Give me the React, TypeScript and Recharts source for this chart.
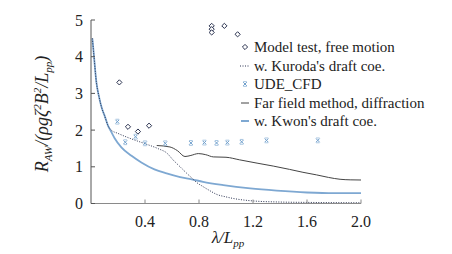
import React from "react";
import { ComposedChart, Line, Scatter, XAxis, YAxis } from "recharts";

// wavelength ratio λ/Lpp and added resistance
const kwonX = [0.01, 0.02, 0.04, 0.06, 0.08, 0.1, 0.126, 0.15, 0.175, 0.225, 0.3, 0.373, 0.47, 0.56, 0.66, 0.745, 0.83, 0.98, 1.18, 1.375, 1.6, 1.8, 2.0];
const kwonY = [4.5, 4.1, 3.3, 2.9, 2.6, 2.4, 2.12, 1.95, 1.78, 1.53, 1.3, 1.12, 0.93, 0.82, 0.72, 0.66, 0.59, 0.5, 0.41, 0.35, 0.3, 0.28, 0.28];

const kurodaX = [0.01, 0.02, 0.04, 0.06, 0.08, 0.1, 0.126, 0.15, 0.2, 0.3, 0.4, 0.5, 0.56, 0.61, 0.66, 0.71, 0.745, 0.78, 0.83, 0.88, 0.93, 1.0, 1.05, 1.2, 1.4, 1.6, 2.0];
const kurodaY = [4.5, 4.1, 3.3, 2.9, 2.6, 2.4, 2.12, 2.0, 1.91, 1.76, 1.63, 1.49, 1.38, 1.18, 1.0, 0.82, 0.7, 0.58, 0.46, 0.35, 0.25, 0.18, 0.14, 0.07, 0.04, 0.03, 0.02];

const farX = [0.487, 0.585, 0.64, 0.696, 0.74, 0.795, 0.85, 0.906, 1.0, 1.1, 1.23, 1.35, 1.47, 1.57, 1.67, 1.76, 1.845, 1.92, 2.0];
const farY = [1.58, 1.54, 1.44, 1.28, 1.31, 1.36, 1.33, 1.27, 1.26, 1.19, 1.1, 1.02, 0.93, 0.85, 0.78, 0.71, 0.66, 0.645, 0.64];

const testX = [0.21, 0.274, 0.348, 0.43, 0.894, 0.894, 0.894, 0.988, 1.086];
const testY = [3.3, 2.09, 1.96, 2.12, 4.84, 4.75, 4.66, 4.84, 4.61];

const cfdX = [0.195, 0.254, 0.33, 0.4, 0.55, 0.74, 0.84, 0.93, 1.01, 1.116, 1.3, 1.68];
const cfdY = [2.23, 1.67, 1.82, 1.64, 1.64, 1.65, 1.66, 1.65, 1.66, 1.68, 1.72, 1.72];

const xTicks = [0.4, 0.8, 1.2, 1.6, 2.0];
const yTicks = [0, 1, 2, 3, 4, 5];

const legendLabels = [
  "Model test, free motion",
  "w. Kuroda's draft coe.",
  "UDE_CFD",
  "Far field method, diffraction",
  "w. Kwon's draft coe.",
];

const zip = (xs: number[], ys: number[]) => xs.map((x, i) => ({ x, y: ys[i] }));

const FONT = "Times New Roman, Liberation Serif, serif";
const DARK = "#2b3350";
const LIGHT_BLUE = "#7ea8d2";
const CFD_BLUE = "#6f9fcc";

const Diamond = ({ cx, cy }: { cx?: number; cy?: number }) => {
  if (cx == null || cy == null) return null;
  const r = 2.6;
  return (
    <path
      d={`M${cx},${cy - r}L${cx + r},${cy}L${cx},${cy + r}L${cx - r},${cy}Z`}
      fill="#fff"
      stroke={DARK}
      strokeWidth={1}
    />
  );
};

const Cross = ({ cx, cy }: { cx?: number; cy?: number }) => {
  if (cx == null || cy == null) return null;
  const r = 1.8;
  return (
    <g stroke={CFD_BLUE} strokeWidth={1}>
      <path d={`M${cx - r},${cy - r}L${cx + r},${cy + r}M${cx + r},${cy - r}L${cx - r},${cy + r}`} />
      <path d={`M${cx - r},${cy - r - 0.6}L${cx + r},${cy - r - 0.6}M${cx - r},${cy + r + 0.6}L${cx + r},${cy + r + 0.6}`} strokeWidth={0.6} />
    </g>
  );
};

const YLabel = () => {
  const cx = 40;
  const cy = 106;
  return (
    <text
      x={cx}
      y={cy}
      transform={`rotate(-90, ${cx}, ${cy})`}
      textAnchor="middle"
      fontFamily={FONT}
      fontStyle="italic"
      fontSize={18}
      fill="#222"
    >
      R
      <tspan dy={4} fontSize={11}>AW</tspan>
      <tspan dy={-4}>/(ρgζ</tspan>
      <tspan dy={-7} fontSize={11}>2</tspan>
      <tspan dy={7}>B</tspan>
      <tspan dy={-7} fontSize={11}>2</tspan>
      <tspan dy={7}>/L</tspan>
      <tspan dy={4} fontSize={11}>pp</tspan>
      <tspan dy={-4}>)</tspan>
    </text>
  );
};

const XLabel = () => (
  <text x={220} y={235} textAnchor="middle" fontFamily={FONT} fontStyle="italic" fontSize={17} fill="#222">
    λ/L
    <tspan dy={4} fontSize={11}>pp</tspan>
  </text>
);

const legendIcon = (i: number) => {
  switch (i) {
    case 0:
      return <Diamond cx={5} cy={6} />;
    case 1:
      return <line x1={0} y1={6} x2={10} y2={6} stroke={DARK} strokeWidth={1} strokeDasharray="1 1.5" />;
    case 2:
      return <Cross cx={5} cy={6} />;
    case 3:
      return <line x1={1} y1={6} x2={9} y2={6} stroke="#444" strokeWidth={1} />;
    default:
      return <line x1={1} y1={6} x2={9} y2={6} stroke={LIGHT_BLUE} strokeWidth={2} />;
  }
};

export default function App() {
  return (
    <div style={{ position: "relative", width: 436, height: 246, background: "#fff" }}>
      <ComposedChart width={436} height={246} margin={{ top: 12, right: 83, bottom: 8, left: 0 }}>
        <XAxis
          type="number"
          dataKey="x"
          domain={[0, 2]}
          ticks={xTicks}
          tickFormatter={(v: number) => v.toFixed(1)}
          height={42.5}
          tickSize={-4}
          tickMargin={16}
          stroke="#8a8a8a"
          tick={{ fill: "#222", fontSize: 16, fontFamily: FONT }}
          allowDataOverflow
          label={<XLabel />}
        />
        <YAxis
          type="number"
          dataKey="y"
          domain={[0, 5]}
          ticks={yTicks}
          width={83}
          tickSize={-4}
          tickMargin={12}
          stroke="#555"
          tick={{ fill: "#222", fontSize: 16, fontFamily: FONT }}
          allowDataOverflow
          label={<YLabel />}
        />
        <Line data={zip(kwonX, kwonY)} dataKey="y" type="monotone" stroke={LIGHT_BLUE} strokeWidth={1.8} dot={false} isAnimationActive={false} />
        <Line data={zip(farX, farY)} dataKey="y" type="monotone" stroke="#444" strokeWidth={1} dot={false} isAnimationActive={false} />
        <Line data={zip(kurodaX, kurodaY)} dataKey="y" type="monotone" stroke={DARK} strokeWidth={1} strokeDasharray="1 1.5" dot={false} isAnimationActive={false} />
        <Scatter data={zip(cfdX, cfdY)} dataKey="y" shape={<Cross />} isAnimationActive={false} />
        <Scatter data={zip(testX, testY)} dataKey="y" shape={<Diamond />} isAnimationActive={false} />
      </ComposedChart>
      <div style={{ position: "absolute", left: 232, top: 30, fontFamily: FONT, fontSize: 15, color: "#222", lineHeight: "18.5px" }}>
        {legendLabels.map((label, i) => (
          <div key={label} style={{ display: "flex", alignItems: "center", whiteSpace: "nowrap" }}>
            <svg width={10} height={12} style={{ marginRight: 4 }}>
              {legendIcon(i)}
            </svg>
            <span>{label}</span>
          </div>
        ))}
      </div>
    </div>
  );
}
